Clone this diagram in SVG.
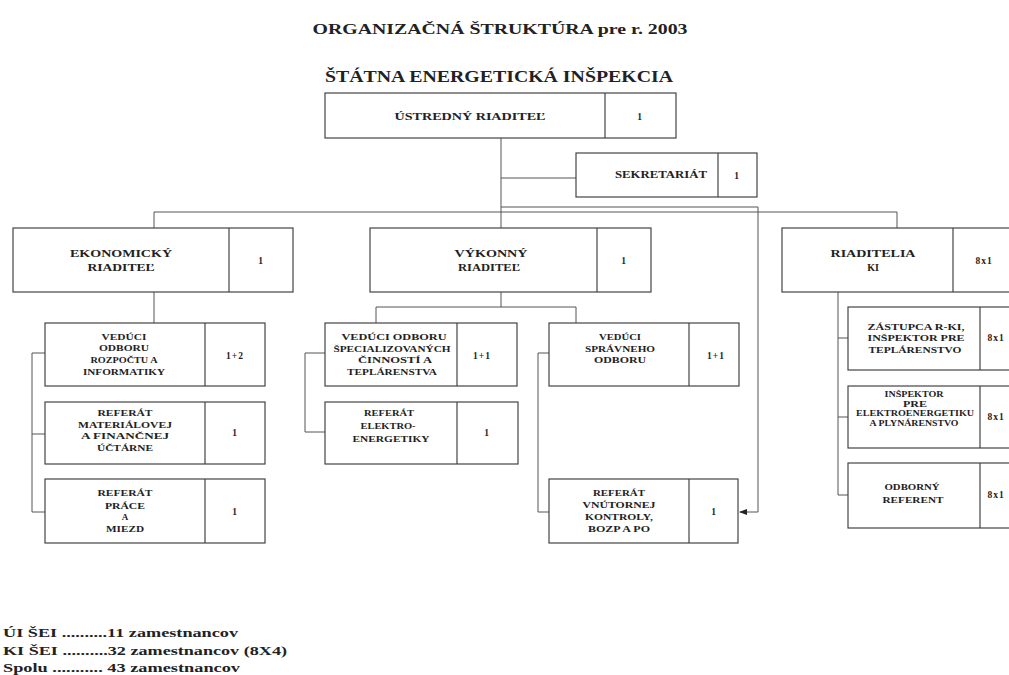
<svg xmlns="http://www.w3.org/2000/svg" width="1009" height="675" viewBox="0 0 1009 675">
<style>
.b{fill:#fff;stroke:#444;stroke-width:1.2}
.d{stroke:#444;stroke-width:1.2}
text{font-family:"Liberation Serif",serif;font-weight:bold;fill:#222}
.t{font-size:9px;text-anchor:middle}
.h{font-size:10px;text-anchor:middle}
.s{font-size:7.5px;text-anchor:middle}
.n{font-size:9.5px;text-anchor:middle;letter-spacing:1px}
.c{fill:none;stroke:#555;stroke-width:1}
.f{font-size:12px}
</style>
<defs>
<marker id="ar" markerWidth="8" markerHeight="6" refX="7" refY="3" orient="auto" markerUnits="userSpaceOnUse">
<path d="M0,0 L8,3 L0,6 Z" fill="#222"/>
</marker>
</defs>
<rect width="1009" height="675" fill="#fff"/>
<text x="500" y="34" textLength="375" lengthAdjust="spacingAndGlyphs" font-size="15" text-anchor="middle">ORGANIZAČNÁ ŠTRUKTÚRA pre r. 2003</text>
<text x="499" y="82" textLength="348" lengthAdjust="spacingAndGlyphs" font-size="17" text-anchor="middle">ŠTÁTNA ENERGETICKÁ INŠPEKCIA</text>

<g id="connectors">
<path class="c" d="M501,138 V228"/>
<path class="c" d="M501,178 H576"/>
<path class="c" d="M154,228 V212 H897 V228"/>
<path class="c" d="M501,207 H758 V512 H740" marker-end="url(#ar)"/>
<path class="c" d="M154,292 V323"/>
<path class="c" d="M45,353 H32 V512 H45 M32,434 H45"/>
<path class="c" d="M501,292 V307 M376,323 V307 H576 V323"/>
<path class="c" d="M325,353 H305 V432 H325"/>
<path class="c" d="M549,353 H538 V512 H549"/>
<path class="c" d="M838,292 V495 H848 M838,338 H848 M838,417 H848"/>
</g>

<g id="ustredny">
<rect class="b" x="325" y="93" width="351" height="45"/>
<line class="d" x1="605" y1="93" x2="605" y2="138"/>
<text class="h" x="470" y="120" textLength="151" lengthAdjust="spacingAndGlyphs">ÚSTREDNÝ RIADITEĽ</text>
<text class="n" x="640" y="120">1</text>
</g>

<g id="sekretariat">
<rect class="b" x="576" y="153" width="181" height="44"/>
<line class="d" x1="718" y1="153" x2="718" y2="197"/>
<text class="h" x="661" y="178" textLength="92" lengthAdjust="spacingAndGlyphs">SEKRETARIÁT</text>
<text class="n" x="737" y="179">1</text>
</g>

<g id="ekonomicky">
<rect class="b" x="13" y="228" width="280" height="64"/>
<line class="d" x1="229" y1="228" x2="229" y2="292"/>
<text class="h" x="121" y="257" textLength="102" lengthAdjust="spacingAndGlyphs">EKONOMICKÝ</text>
<text class="h" x="121" y="271" textLength="67" lengthAdjust="spacingAndGlyphs">RIADITEĽ</text>
<text class="n" x="261" y="264">1</text>
</g>

<g id="vykonny">
<rect class="b" x="370" y="228" width="281" height="64"/>
<line class="d" x1="597" y1="228" x2="597" y2="292"/>
<text class="h" x="491" y="257" textLength="73" lengthAdjust="spacingAndGlyphs">VÝKONNÝ</text>
<text class="h" x="489" y="271" textLength="62" lengthAdjust="spacingAndGlyphs">RIADITEĽ</text>
<text class="n" x="624" y="264">1</text>
</g>

<g id="riaditelia-ki">
<rect class="b" x="782" y="228" width="240" height="64"/>
<line class="d" x1="953" y1="228" x2="953" y2="292"/>
<text class="h" x="873" y="257" textLength="85" lengthAdjust="spacingAndGlyphs">RIADITELIA</text>
<text class="h" x="873" y="271">KI</text>
<text class="n" x="984" y="264">8x1</text>
</g>

<g id="veduci-rozpoctu">
<rect class="b" x="45" y="323" width="220" height="63"/>
<line class="d" x1="205" y1="323" x2="205" y2="386"/>
<text class="t" x="124" y="340" textLength="45" lengthAdjust="spacingAndGlyphs">VEDÚCI</text>
<text class="t" x="124" y="351" textLength="50" lengthAdjust="spacingAndGlyphs">ODBORU</text>
<text class="t" x="124" y="363" textLength="67" lengthAdjust="spacingAndGlyphs">ROZPOČTU A</text>
<text class="t" x="124" y="375" textLength="82" lengthAdjust="spacingAndGlyphs">INFORMATIKY</text>
<text class="n" x="235" y="359">1+2</text>
</g>

<g id="referat-uctarne">
<rect class="b" x="45" y="402" width="220" height="62"/>
<line class="d" x1="205" y1="402" x2="205" y2="464"/>
<text class="t" x="125" y="416" textLength="55" lengthAdjust="spacingAndGlyphs">REFERÁT</text>
<text class="t" x="125" y="428" textLength="94" lengthAdjust="spacingAndGlyphs">MATERIÁLOVEJ</text>
<text class="t" x="125" y="439" textLength="88" lengthAdjust="spacingAndGlyphs">A FINANČNEJ</text>
<text class="t" x="125" y="451" textLength="56" lengthAdjust="spacingAndGlyphs">ÚČTÁRNE</text>
<text class="n" x="235" y="436">1</text>
</g>

<g id="referat-miezd">
<rect class="b" x="45" y="479" width="220" height="64"/>
<line class="d" x1="205" y1="479" x2="205" y2="543"/>
<text class="t" x="125" y="496" textLength="55" lengthAdjust="spacingAndGlyphs">REFERÁT</text>
<text class="t" x="125" y="509" textLength="40" lengthAdjust="spacingAndGlyphs">PRÁCE</text>
<text class="t" x="125" y="520">A</text>
<text class="t" x="125" y="532" textLength="38" lengthAdjust="spacingAndGlyphs">MIEZD</text>
<text class="n" x="235" y="515">1</text>
</g>

<g id="veduci-specializovanych">
<rect class="b" x="325" y="323" width="192" height="63"/>
<line class="d" x1="457" y1="323" x2="457" y2="386"/>
<text class="t" x="394" y="340" textLength="105" lengthAdjust="spacingAndGlyphs">VEDÚCI ODBORU</text>
<text class="t" x="392" y="352" textLength="117" lengthAdjust="spacingAndGlyphs">ŠPECIALIZOVANÝCH</text>
<text class="t" x="395" y="363" textLength="74" lengthAdjust="spacingAndGlyphs">ČINNOSTÍ A</text>
<text class="t" x="392" y="375" textLength="90" lengthAdjust="spacingAndGlyphs">TEPLÁRENSTVA</text>
<text class="n" x="482" y="359">1+1</text>
</g>

<g id="referat-elektro">
<rect class="b" x="325" y="402" width="193" height="62"/>
<line class="d" x1="457" y1="402" x2="457" y2="464"/>
<text class="t" x="389" y="416" textLength="50" lengthAdjust="spacingAndGlyphs">REFERÁT</text>
<text class="t" x="388" y="429" textLength="55" lengthAdjust="spacingAndGlyphs">ELEKTRO-</text>
<text class="t" x="391" y="442" textLength="77" lengthAdjust="spacingAndGlyphs">ENERGETIKY</text>
<text class="n" x="487" y="436">1</text>
</g>

<g id="veduci-spravneho">
<rect class="b" x="549" y="323" width="190" height="63"/>
<line class="d" x1="689" y1="323" x2="689" y2="386"/>
<text class="t" x="620" y="340" textLength="42" lengthAdjust="spacingAndGlyphs">VEDÚCI</text>
<text class="t" x="620" y="352" textLength="70" lengthAdjust="spacingAndGlyphs">SPRÁVNEHO</text>
<text class="t" x="620" y="363" textLength="52" lengthAdjust="spacingAndGlyphs">ODBORU</text>
<text class="n" x="716" y="359">1+1</text>
</g>

<g id="referat-kontroly">
<rect class="b" x="549" y="479" width="189" height="64"/>
<line class="d" x1="689" y1="479" x2="689" y2="543"/>
<text class="t" x="619" y="496" textLength="52" lengthAdjust="spacingAndGlyphs">REFERÁT</text>
<text class="t" x="619" y="508" textLength="73" lengthAdjust="spacingAndGlyphs">VNÚTORNEJ</text>
<text class="t" x="619" y="520" textLength="68" lengthAdjust="spacingAndGlyphs">KONTROLY,</text>
<text class="t" x="619" y="532" textLength="62" lengthAdjust="spacingAndGlyphs">BOZP A PO</text>
<text class="n" x="714" y="515">1</text>
</g>

<g id="zastupca">
<rect class="b" x="848" y="307" width="180" height="63"/>
<line class="d" x1="980" y1="307" x2="980" y2="370"/>
<text class="t" x="916" y="330" textLength="97" lengthAdjust="spacingAndGlyphs">ZÁSTUPCA R-KI,</text>
<text class="t" x="916" y="341" textLength="97" lengthAdjust="spacingAndGlyphs">INŠPEKTOR PRE</text>
<text class="t" x="915" y="353" textLength="93" lengthAdjust="spacingAndGlyphs">TEPLÁRENSTVO</text>
<text class="n" x="996" y="341">8x1</text>
</g>

<g id="inspektor">
<rect class="b" x="848" y="386" width="180" height="62"/>
<line class="d" x1="980" y1="386" x2="980" y2="448"/>
<text class="s" x="914" y="397" textLength="59" lengthAdjust="spacingAndGlyphs">INŠPEKTOR</text>
<text class="s" x="915" y="407" textLength="24" lengthAdjust="spacingAndGlyphs">PRE</text>
<text class="s" x="915" y="416" textLength="118" lengthAdjust="spacingAndGlyphs">ELEKTROENERGETIKU</text>
<text class="s" x="914" y="426" textLength="89" lengthAdjust="spacingAndGlyphs">A PLYNÁRENSTVO</text>
<text class="n" x="996" y="420">8x1</text>
</g>

<g id="odborny-referent">
<rect class="b" x="848" y="463" width="180" height="65"/>
<line class="d" x1="980" y1="463" x2="980" y2="528"/>
<text class="t" x="912" y="490" textLength="55" lengthAdjust="spacingAndGlyphs">ODBORNÝ</text>
<text class="t" x="913" y="503" textLength="61" lengthAdjust="spacingAndGlyphs">REFERENT</text>
<text class="n" x="996" y="498">8x1</text>
</g>

<g id="sumar">
<text class="f" x="3" y="637" textLength="235" lengthAdjust="spacingAndGlyphs">ÚI ŠEI ..........11 zamestnancov</text>
<text class="f" x="3" y="655" textLength="284" lengthAdjust="spacingAndGlyphs">KI ŠEI ..........32 zamestnancov  (8X4)</text>
<text class="f" x="3" y="672" textLength="237" lengthAdjust="spacingAndGlyphs">Spolu ........... 43 zamestnancov</text>
</g>
</svg>
